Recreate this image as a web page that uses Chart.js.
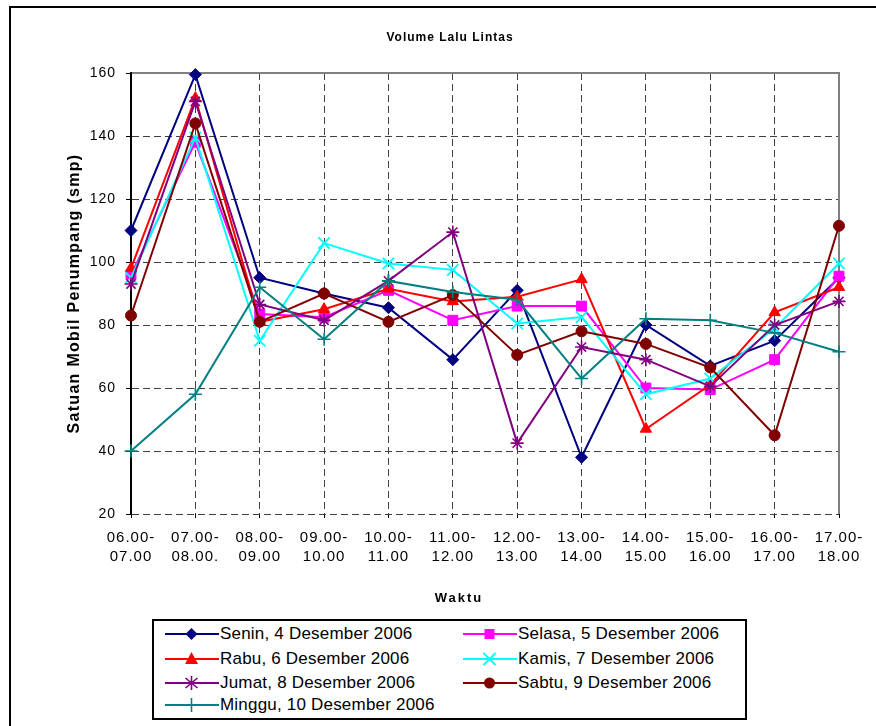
<!DOCTYPE html>
<html>
<head>
<meta charset="utf-8">
<script src="https://cdn.jsdelivr.net/npm/chart.js@4/dist/chart.umd.min.js"></script>
<style>
  html, body { margin: 0; padding: 0; background: #fff; }
  #wrap { position: relative; width: 876px; height: 726px; overflow: hidden; }
  #c { position: absolute; left: 0; top: 0; }
  #legend { position: absolute; left: 152px; top: 619px; width: 591px; height: 97px;
            border: 2px solid #000; background: #fff; box-sizing: content-box; }
  .item { position: absolute; height: 22px; line-height: 22px; white-space: nowrap;
          font-family: 'Liberation Sans', Arial, sans-serif; font-size: 17px; color: #000; letter-spacing: 0.2px; }
  .item svg { position: absolute; left: 0; top: 0; }
  .item span { position: absolute; top: 0; }
</style>
</head>
<body>
<div id="wrap">
  <canvas id="c" width="876" height="726"></canvas>
  <div id="legend"></div>
</div>
<script>
// ---- data ----
const timeStart = ['06.00-','07.00-','08.00-','09.00-','10.00-','11.00-','12.00-','13.00-','14.00-','15.00-','16.00-','17.00-'];
const timeEnd   = ['07.00','08.00.','09.00','10.00','11.00','12.00','13.00','14.00','15.00','16.00','17.00','18.00'];

const senin  = [110, 159.5, 95, 90, 85.5, 69, 91, 38, 80, 67, 75, 95];
const selasa = [96, 138, 83.5, 82.5, 91, 81.5, 86, 86, 60, 59.5, 69, 95.5];
const rabu   = [98, 152, 81, 85, 91.5, 87.5, 89, 94.5, 47, 61, 84, 92];
const kamis  = [95, 139.5, 75, 106, 99.5, 97.5, 80.5, 82.5, 58, 63, 79, 99.5];
const jumat  = [93, 151, 86.5, 81.5, 94, 109.5, 42.5, 73, 69, 60.5, 80, 87.5];
const sabtu  = [83, 144, 81, 90, 81, 89.5, 70.5, 78, 74, 66.5, 45, 111.5];
const minggu = [40, 58, 92, 75.5, 94, 90.5, 88, 63, 82, 81.5, 77.5, 71.5];

const seriesNames = ['Senin, 4 Desember 2006','Selasa, 5 Desember 2006','Rabu, 6 Desember 2006',
  'Kamis, 7 Desember 2006','Jumat, 8 Desember 2006','Sabtu, 9 Desember 2006','Minggu, 10 Desember 2006'];
const seriesValues = [senin, selasa, rabu, kamis, jumat, sabtu, minggu];

const yTicks = [20, 40, 60, 80, 100, 120, 140, 160];
const chartTitle = 'Volume Lalu Lintas';
const xTitle = 'Waktu';
const yTitle = 'Satuan Mobil Penumpang (smp)';

// ---- styles ----
const colors = ['#000080','#FF00FF','#FF0000','#00FFFF','#800080','#800000','#008080'];
const pStyles = ['rectRot','rect','triangle','crossRot','star','circle','cross'];
const pRadius = [6, 7, 6.5, 8, 6.5, 5.5, 6.5];
const pBorder = [1, 1, 1, 1.8, 1.6, 1, 1.6];
const FONT = "'Liberation Sans', Arial, sans-serif";

const labels = timeStart.map((s, i) => [s, timeEnd[i]]);

const datasets = seriesValues.map((vals, i) => ({
  label: seriesNames[i],
  data: vals,
  borderColor: colors[i],
  backgroundColor: colors[i],
  borderWidth: 2,
  pointStyle: pStyles[i],
  pointRadius: pRadius[i],
  pointBorderWidth: pBorder[i],
  pointBackgroundColor: colors[i],
  pointBorderColor: colors[i],
  tension: 0,
  clip: false,
  order: seriesValues.length - i
}));

const decor = {
  id: 'decor',
  beforeDraw(chart) {
    const ctx = chart.ctx;
    ctx.save();
    ctx.fillStyle = '#fff';
    ctx.fillRect(0, 0, chart.width, chart.height);
    ctx.strokeStyle = '#000';
    ctx.lineWidth = 2;
    ctx.strokeRect(10, 7, 900, 800);
    ctx.restore();
    try { ctx.letterSpacing = '1px'; } catch (e) {}
  },
  beforeDatasetsDraw(chart) {
    const ctx = chart.ctx, a = chart.chartArea;
    ctx.save();
    ctx.setLineDash([]);
    ctx.strokeStyle = '#808080';
    ctx.lineWidth = 2;
    ctx.beginPath();
    ctx.moveTo(a.left, a.top);
    ctx.lineTo(a.right, a.top);
    ctx.lineTo(a.right, a.bottom);
    ctx.stroke();
    // re-draw left axis on top of the top border corner
    ctx.strokeStyle = '#000';
    ctx.beginPath();
    ctx.moveTo(a.left, a.top - 1);
    ctx.lineTo(a.left, a.bottom);
    ctx.stroke();
    ctx.restore();
  },
  afterDraw(chart) {
    const ctx = chart.ctx, a = chart.chartArea;
    ctx.save();
    ctx.fillStyle = '#000';
    ctx.textAlign = 'center';
    ctx.textBaseline = 'middle';
    try { ctx.letterSpacing = '2px'; } catch (e) {}
    ctx.font = 'bold 13px ' + FONT;
    ctx.fillText(xTitle, 459, 598);
    try { ctx.letterSpacing = '1.3px'; } catch (e) {}
    ctx.font = 'bold 16px ' + FONT;
    ctx.translate(75, (a.top + a.bottom) / 2);
    ctx.rotate(-Math.PI / 2);
    ctx.fillText(yTitle, 0, 0);
    ctx.restore();
  }
};

new Chart(document.getElementById('c'), {
  type: 'line',
  data: { labels, datasets },
  plugins: [decor],
  options: {
    responsive: false,
    animation: false,
    events: [],
    layout: { padding: { left: 61, right: 37, top: 0, bottom: 120 } },
    plugins: {
      legend: { display: false },
      tooltip: { enabled: false },
      title: {
        display: true, text: chartTitle, color: '#000',
        font: { family: FONT, size: 12, weight: 'bold', lineHeight: 1.2 },
        padding: { top: 30, bottom: 28.6 }
      }
    },
    scales: {
      x: {
        type: 'category',
        offset: false,
        grid: { color: '#404040', lineWidth: 1, drawTicks: true, tickLength: 4, tickColor: '#000', tickWidth: 1 },
        border: { display: false, dash: [7, 4] },
        ticks: { autoSkip: false, maxRotation: 0, minRotation: 0, padding: 10, color: '#000',
                 font: { family: FONT, size: 15, lineHeight: 1.3 } },
        afterFit(s) { s.height = 92; }
      },
      y: {
        min: yTicks[0], max: yTicks[yTicks.length - 1],
        afterBuildTicks(s) { s.ticks = yTicks.map(v => ({ value: v })); },
        grid: { color: '#404040', lineWidth: 1, drawTicks: true, tickLength: 5, tickColor: '#000', tickWidth: 1 },
        border: { display: true, color: '#000', width: 2, dash: [7, 4] },
        ticks: { padding: 10, color: '#000', font: { family: FONT, size: 14 } },
        afterFit(s) { s.width = 70; }
      }
    }
  }
});

// ---- HTML legend ----
function markerSvg(style, color) {
  const cx = 26.5, cy = 11;
  let m = '';
  if (style === 'rectRot') m = `<polygon points="${cx},${cy-6} ${cx+6},${cy} ${cx},${cy+6} ${cx-6},${cy}" fill="${color}"/>`;
  else if (style === 'rect') m = `<rect x="${cx-5}" y="${cy-5}" width="10" height="10" fill="${color}"/>`;
  else if (style === 'triangle') m = `<polygon points="${cx},${cy-7} ${cx+6.5},${cy+5} ${cx-6.5},${cy+5}" fill="${color}"/>`;
  else if (style === 'crossRot') m = `<path d="M${cx-6} ${cy-6}L${cx+6} ${cy+6}M${cx+6} ${cy-6}L${cx-6} ${cy+6}" stroke="${color}" stroke-width="1.8"/>`;
  else if (style === 'star') m = `<path d="M${cx} ${cy-7}L${cx} ${cy+7}M${cx-6} ${cy-5}L${cx+6} ${cy+5}M${cx+6} ${cy-5}L${cx-6} ${cy+5}" stroke="${color}" stroke-width="1.6"/>`;
  else if (style === 'circle') m = `<circle cx="${cx}" cy="${cy}" r="5.5" fill="${color}"/>`;
  else if (style === 'cross') m = `<path d="M${cx-7} ${cy}L${cx+7} ${cy}M${cx} ${cy-7}L${cx} ${cy+7}" stroke="${color}" stroke-width="1.6"/>`;
  return `<svg width="54" height="22" viewBox="0 0 54 22"><line x1="0" y1="${cy}" x2="54" y2="${cy}" stroke="${color}" stroke-width="2"/>${m}</svg>`;
}
const legend = document.getElementById('legend');
const rowCenters = [634, 658.5, 682.5, 705];
const colLine = [165, 463];
const legendLeft = 154, legendTop = 621;
seriesNames.forEach((name, i) => {
  const row = Math.floor(i / 2), col = i % 2;
  const d = document.createElement('div');
  d.className = 'item';
  d.style.left = (colLine[col] - legendLeft) + 'px';
  d.style.top = (rowCenters[row] - 11 - legendTop) + 'px';
  d.innerHTML = markerSvg(pStyles[i], colors[i]) + `<span style="left:55px">${name}</span>`;
  legend.appendChild(d);
});
</script>
</body>
</html>
